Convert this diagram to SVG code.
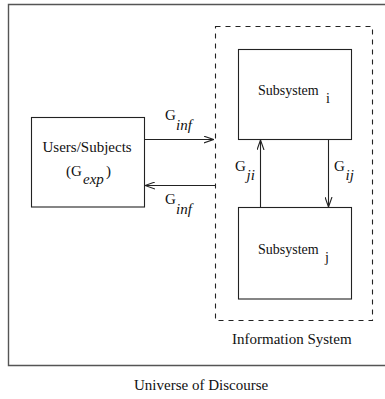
<svg xmlns="http://www.w3.org/2000/svg" width="385" height="399" viewBox="0 0 385 399">
  <style>
    .box { fill: none; stroke: #222; stroke-width: 1.1; }
    .frame { fill: none; stroke: #555; stroke-width: 1.4; }
    .dash { fill: none; stroke: #222; stroke-width: 1.1; stroke-dasharray: 5 5; }
    .wire { fill: none; stroke: #222; stroke-width: 1.1; }
    text { font-family: 'Liberation Serif', 'Times New Roman', 'DejaVu Serif', serif; font-size: 15px; fill: #111; }
    .sm { font-size: 14px; }
    .it { font-style: italic; }
  </style>
  <defs>
    <marker id="vee" viewBox="0 0 10 8" refX="10" refY="4" markerWidth="10" markerHeight="8" markerUnits="userSpaceOnUse" orient="auto">
      <path d="M0 0.5 L10 4 L0 7.5" fill="none" stroke="#222" stroke-width="1.1"/>
    </marker>
  </defs>

  <!-- Universe of discourse frame -->
  <g id="universe">
    <path class="frame" d="M400 4.5 H8.5 V365.5 H400"/>
    <text x="134" y="390" font-family="Liberation Serif, serif">Universe of Discourse</text>
  </g>

  <!-- Information system boundary -->
  <g id="information-system">
    <rect class="dash" x="215.5" y="26.5" width="157" height="294"/>
    <text x="232" y="344" font-family="Liberation Serif, serif">Information System</text>
  </g>

  <g id="subsystem-i">
    <rect class="box" x="238.5" y="49.5" width="113" height="90"/>
    <text class="sm" x="258" y="95" font-family="Liberation Serif, serif">Subsystem</text>
    <text class="sm" x="326" y="103" font-family="Liberation Serif, serif">i</text>
  </g>

  <g id="subsystem-j">
    <rect class="box" x="238.5" y="207.5" width="113" height="91.5"/>
    <text class="sm" x="258" y="254" font-family="Liberation Serif, serif">Subsystem</text>
    <text class="sm" x="325" y="262" font-family="Liberation Serif, serif">j</text>
  </g>

  <g id="users">
    <rect class="box" x="31.5" y="117.5" width="113" height="89.5"/>
    <text x="42.5" y="152" font-family="Liberation Serif, serif">Users/Subjects</text>
    <text x="66" y="176" font-family="Liberation Serif, serif">(G</text>
    <text class="it" x="83" y="184" font-family="Liberation Serif, serif">exp</text>
    <text x="106" y="176" font-family="Liberation Serif, serif">)</text>
  </g>

  <g id="connectors">
    <path class="wire" d="M144.5 139.5 H213.5" marker-end="url(#vee)"/>
    <path class="wire" d="M215 185.5 H145" marker-end="url(#vee)"/>
    <path class="wire" d="M260.5 207.5 V140" marker-end="url(#vee)"/>
    <path class="wire" d="M328.5 139.5 V207" marker-end="url(#vee)"/>

    <text x="165" y="120" font-family="Liberation Serif, serif">G</text>
    <text class="it" x="176" y="130" font-family="Liberation Serif, serif">inf</text>
    <text x="165" y="204" font-family="Liberation Serif, serif">G</text>
    <text class="it" x="176" y="214" font-family="Liberation Serif, serif">inf</text>
    <text x="235" y="171" font-family="Liberation Serif, serif">G</text>
    <text class="it" x="246.5" y="180" font-family="Liberation Serif, serif">ji</text>
    <text x="334" y="171" font-family="Liberation Serif, serif">G</text>
    <text class="it" x="345.5" y="180" font-family="Liberation Serif, serif">ij</text>
  </g>
</svg>
